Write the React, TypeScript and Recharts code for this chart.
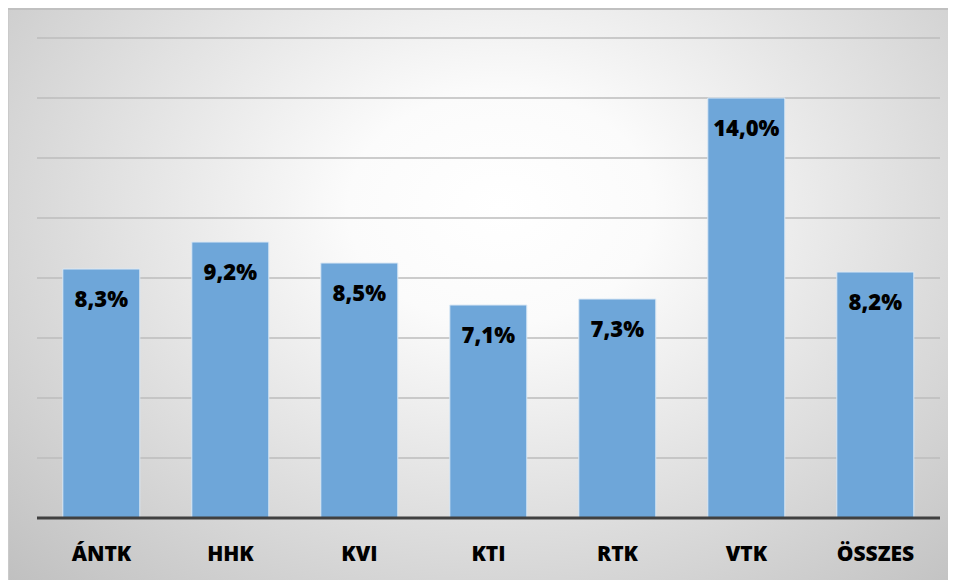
import { BarChart, Bar, XAxis, YAxis, CartesianGrid, LabelList } from 'recharts';

const categories = ['ÁNTK', 'HHK', 'KVI', 'KTI', 'RTK', 'VTK', 'ÖSSZES'];
const rates = [8.3, 9.2, 8.5, 7.1, 7.3, 14.0, 8.2];
const yTicks = [0, 2, 4, 6, 8, 10, 12, 14, 16];

const data = categories.map((name, i) => ({ name, rate: rates[i] }));

const fmt = (v: number) => v.toFixed(1).replace('.', ',') + '%';

export default function App() {
  return (
    <div
      style={{
        width: 948,
        height: 572,
        background:
          'radial-gradient(ellipse farthest-corner at 52% 35%, #ffffff 0%, #fbfbfb 22%, #c0c0c0 100%)',
        boxShadow: 'inset 0 2px 0 #c0c0c0, inset 1px 0 0 #cacaca',
        fontFamily: '"Open Sans", sans-serif',
      }}
    >
      <BarChart
        width={948}
        height={572}
        data={data}
        margin={{ top: 30, right: 16, bottom: 0, left: 29 }}
        barCategoryGap="20%"
      >
        <CartesianGrid vertical={false} stroke="#bdbdbd" strokeWidth={1.5} />
        <YAxis hide domain={[0, 16]} ticks={yTicks} />
        <XAxis
          dataKey="name"
          height={62}
          axisLine={{ stroke: '#404040', strokeWidth: 3 }}
          tickLine={false}
          tickSize={0}
          tickMargin={28}
          tick={{ fill: '#000', fontSize: 21, fontWeight: 800 }}
        />
        <Bar dataKey="rate" fill="#6ea6d9" stroke="#dbe8f5" strokeWidth={1} isAnimationActive={false}>
          <LabelList
            dataKey="rate"
            position="insideTop"
            offset={22}
            formatter={(v: any) => fmt(Number(v))}
            style={{ fill: '#000', fontSize: 22, fontWeight: 800 }}
          />
        </Bar>
      </BarChart>
    </div>
  );
}
